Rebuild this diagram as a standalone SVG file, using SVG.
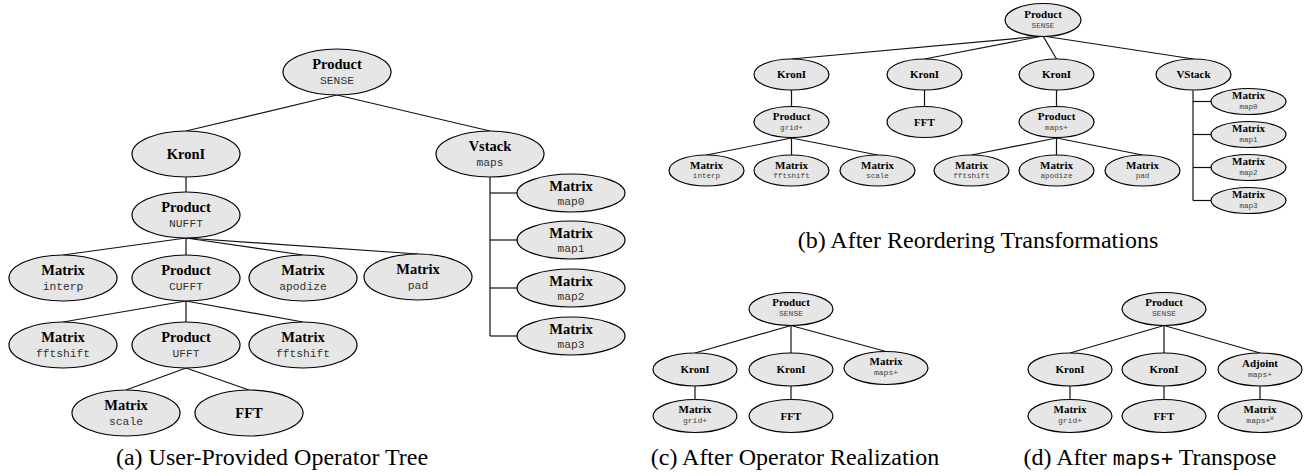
<svg xmlns="http://www.w3.org/2000/svg" width="1305" height="476" viewBox="0 0 1305 476">
<style>
  .bg { fill: #ffffff; }
  .n ellipse { fill: #e6e6e6; stroke: #000; stroke-width: 1.2; }
  .n text { text-anchor: middle; }
  .t1 { font-family: "Liberation Serif", serif; font-weight: bold; font-size: 14.5px; fill: #000; }
  .s1 { font-family: "Liberation Mono", monospace; font-size: 11.3px; fill: #333; }
  .t2 { font-family: "Liberation Serif", serif; font-weight: bold; font-size: 11px; fill: #000; }
  .s2 { font-family: "Liberation Mono", monospace; font-size: 7.6px; fill: #444; }
  .s3 { font-family: "Liberation Mono", monospace; font-size: 8px; fill: #444; }
  .edges line { stroke: #111; stroke-width: 1.2; fill: none; }
  .cap { font-family: "Liberation Serif", serif; font-size: 24px; fill: #000; text-anchor: middle; }
  .capmono { font-family: "DejaVu Sans Mono", monospace; font-size: 20px; }
</style>
<rect class="bg" x="0" y="0" width="1305" height="476"/>

<!-- connectors -->
<g id="edges" class="edges">
  <!-- (a) -->
  <line x1="337" y1="95" x2="186" y2="131"/>
  <line x1="337" y1="95" x2="490" y2="131"/>
  <line x1="186" y1="177" x2="186" y2="192"/>
  <line x1="186" y1="238" x2="63" y2="255"/>
  <line x1="186" y1="238" x2="186" y2="255"/>
  <line x1="186" y1="238" x2="303" y2="255"/>
  <line x1="186" y1="238" x2="418" y2="254"/>
  <line x1="186" y1="301" x2="63" y2="322"/>
  <line x1="186" y1="301" x2="186" y2="322"/>
  <line x1="186" y1="301" x2="303" y2="322"/>
  <line x1="186" y1="368" x2="126" y2="390"/>
  <line x1="186" y1="368" x2="249" y2="390"/>
  <line x1="490" y1="177" x2="490" y2="336"/>
  <line x1="490" y1="193" x2="517" y2="193"/>
  <line x1="490" y1="240" x2="517" y2="240"/>
  <line x1="490" y1="288" x2="517" y2="288"/>
  <line x1="490" y1="336" x2="517" y2="336"/>
  <!-- (b) -->
  <line x1="1043" y1="36" x2="791.5" y2="59"/>
  <line x1="1043" y1="36" x2="924.5" y2="59"/>
  <line x1="1043" y1="36" x2="1056.5" y2="59"/>
  <line x1="1043" y1="36" x2="1193.5" y2="59"/>
  <line x1="791.5" y1="90" x2="791.5" y2="106"/>
  <line x1="924.5" y1="90" x2="924.5" y2="106"/>
  <line x1="1056.5" y1="90" x2="1056.5" y2="106"/>
  <line x1="791.5" y1="138" x2="706.5" y2="155"/>
  <line x1="791.5" y1="138" x2="791.5" y2="155"/>
  <line x1="791.5" y1="138" x2="877.5" y2="155"/>
  <line x1="1056.5" y1="138" x2="971.5" y2="155"/>
  <line x1="1056.5" y1="138" x2="1056.5" y2="155"/>
  <line x1="1056.5" y1="138" x2="1142.5" y2="155"/>
  <line x1="1193" y1="90.5" x2="1193" y2="200.5"/>
  <line x1="1193" y1="101.5" x2="1211" y2="101.5"/>
  <line x1="1193" y1="134.5" x2="1211" y2="134.5"/>
  <line x1="1193" y1="167.5" x2="1211" y2="167.5"/>
  <line x1="1193" y1="200.5" x2="1211" y2="200.5"/>
  <!-- (c) -->
  <line x1="791" y1="325.5" x2="695" y2="353"/>
  <line x1="791" y1="325.5" x2="791" y2="353"/>
  <line x1="791" y1="325.5" x2="886" y2="351.5"/>
  <line x1="695" y1="386" x2="695" y2="399.5"/>
  <line x1="791" y1="386" x2="791" y2="399.5"/>
  <!-- (d) -->
  <line x1="1164" y1="325.5" x2="1070" y2="353"/>
  <line x1="1164" y1="325.5" x2="1164" y2="353"/>
  <line x1="1164" y1="325.5" x2="1260" y2="353"/>
  <line x1="1070" y1="386" x2="1070" y2="399.5"/>
  <line x1="1164" y1="386" x2="1164" y2="399.5"/>
  <line x1="1260" y1="386" x2="1260" y2="399.5"/>
</g>

<!-- (a) user-provided operator tree -->
<g id="a_sense" class="n"><ellipse cx="337" cy="72" rx="54" ry="23"/><text class="t1" x="337" y="69">Product</text><text class="s1" x="337" y="84">SENSE</text></g>
<g id="a_kron" class="n"><ellipse cx="186" cy="154" rx="54" ry="23"/><text class="t1" x="186" y="159">KronI</text></g>
<g id="a_vstack" class="n"><ellipse cx="490" cy="154" rx="54" ry="23"/><text class="t1" x="490" y="151">Vstack</text><text class="s1" x="490" y="166">maps</text></g>
<g id="a_nufft" class="n"><ellipse cx="186" cy="215" rx="54" ry="23"/><text class="t1" x="186" y="212">Product</text><text class="s1" x="186" y="227">NUFFT</text></g>
<g id="a_map0" class="n"><ellipse cx="571" cy="193" rx="54" ry="19"/><text class="t1" x="571" y="191">Matrix</text><text class="s1" x="571" y="205">map0</text></g>
<g id="a_map1" class="n"><ellipse cx="571" cy="240" rx="54" ry="19"/><text class="t1" x="571" y="238">Matrix</text><text class="s1" x="571" y="252">map1</text></g>
<g id="a_map2" class="n"><ellipse cx="571" cy="288" rx="54" ry="19"/><text class="t1" x="571" y="286">Matrix</text><text class="s1" x="571" y="300">map2</text></g>
<g id="a_map3" class="n"><ellipse cx="571" cy="336" rx="54" ry="19"/><text class="t1" x="571" y="334">Matrix</text><text class="s1" x="571" y="348">map3</text></g>
<g id="a_interp" class="n"><ellipse cx="63" cy="278" rx="54" ry="23"/><text class="t1" x="63" y="275">Matrix</text><text class="s1" x="63" y="290">interp</text></g>
<g id="a_cufft" class="n"><ellipse cx="186" cy="278" rx="54" ry="23"/><text class="t1" x="186" y="275">Product</text><text class="s1" x="186" y="290">CUFFT</text></g>
<g id="a_apodize" class="n"><ellipse cx="303" cy="278" rx="54" ry="23"/><text class="t1" x="303" y="275">Matrix</text><text class="s1" x="303" y="290">apodize</text></g>
<g id="a_pad" class="n"><ellipse cx="418" cy="277" rx="54" ry="23"/><text class="t1" x="418" y="274">Matrix</text><text class="s1" x="418" y="289">pad</text></g>
<g id="a_fftshift1" class="n"><ellipse cx="63" cy="345" rx="54" ry="23"/><text class="t1" x="63" y="342">Matrix</text><text class="s1" x="63" y="357">fftshift</text></g>
<g id="a_ufft" class="n"><ellipse cx="186" cy="345" rx="54" ry="23"/><text class="t1" x="186" y="342">Product</text><text class="s1" x="186" y="357">UFFT</text></g>
<g id="a_fftshift2" class="n"><ellipse cx="303" cy="345" rx="54" ry="23"/><text class="t1" x="303" y="342">Matrix</text><text class="s1" x="303" y="357">fftshift</text></g>
<g id="a_scale" class="n"><ellipse cx="126" cy="413" rx="54" ry="23"/><text class="t1" x="126" y="410">Matrix</text><text class="s1" x="126" y="425">scale</text></g>
<g id="a_fft" class="n"><ellipse cx="249" cy="413" rx="54" ry="23"/><text class="t1" x="249" y="418">FFT</text></g>

<!-- (b) after reordering -->
<g id="b_sense" class="n"><ellipse cx="1043" cy="20" rx="38" ry="16.5"/><text class="t2" x="1043" y="18">Product</text><text class="s2" x="1043" y="28">SENSE</text></g>
<g id="b_kron1" class="n"><ellipse cx="791.5" cy="74.5" rx="37.5" ry="15.5"/><text class="t2" x="791.5" y="78">KronI</text></g>
<g id="b_kron2" class="n"><ellipse cx="924.5" cy="74.5" rx="37.5" ry="15.5"/><text class="t2" x="924.5" y="78">KronI</text></g>
<g id="b_kron3" class="n"><ellipse cx="1056.5" cy="74.5" rx="37.5" ry="15.5"/><text class="t2" x="1056.5" y="78">KronI</text></g>
<g id="b_vstack" class="n"><ellipse cx="1193.5" cy="74.5" rx="37.5" ry="15.5"/><text class="t2" x="1193.5" y="78">VStack</text></g>
<g id="b_grid" class="n"><ellipse cx="791.5" cy="122" rx="37.5" ry="15.5"/><text class="t2" x="791.5" y="120">Product</text><text class="s2" x="791.5" y="129.5">grid+</text></g>
<g id="b_fft" class="n"><ellipse cx="924.5" cy="122" rx="37.5" ry="15.5"/><text class="t2" x="924.5" y="125.5">FFT</text></g>
<g id="b_maps" class="n"><ellipse cx="1056.5" cy="122" rx="37.5" ry="15.5"/><text class="t2" x="1056.5" y="120">Product</text><text class="s2" x="1056.5" y="129.5">maps+</text></g>
<g id="b_interp" class="n"><ellipse cx="706.5" cy="170.5" rx="37.5" ry="15.5"/><text class="t2" x="706.5" y="168.5">Matrix</text><text class="s2" x="706.5" y="178">interp</text></g>
<g id="b_fftshift1" class="n"><ellipse cx="791.5" cy="170.5" rx="37.5" ry="15.5"/><text class="t2" x="791.5" y="168.5">Matrix</text><text class="s2" x="791.5" y="178">fftshift</text></g>
<g id="b_scale" class="n"><ellipse cx="877.5" cy="170.5" rx="37.5" ry="15.5"/><text class="t2" x="877.5" y="168.5">Matrix</text><text class="s2" x="877.5" y="178">scale</text></g>
<g id="b_fftshift2" class="n"><ellipse cx="971.5" cy="170.5" rx="37.5" ry="15.5"/><text class="t2" x="971.5" y="168.5">Matrix</text><text class="s2" x="971.5" y="178">fftshift</text></g>
<g id="b_apodize" class="n"><ellipse cx="1056.5" cy="170.5" rx="37.5" ry="15.5"/><text class="t2" x="1056.5" y="168.5">Matrix</text><text class="s2" x="1056.5" y="178">apodize</text></g>
<g id="b_pad" class="n"><ellipse cx="1142.5" cy="170.5" rx="37.5" ry="15.5"/><text class="t2" x="1142.5" y="168.5">Matrix</text><text class="s2" x="1142.5" y="178">pad</text></g>
<g id="b_map0" class="n"><ellipse cx="1248.5" cy="101.5" rx="37.5" ry="13"/><text class="t2" x="1248.5" y="99">Matrix</text><text class="s2" x="1248.5" y="109">map0</text></g>
<g id="b_map1" class="n"><ellipse cx="1248.5" cy="134.5" rx="37.5" ry="13"/><text class="t2" x="1248.5" y="132">Matrix</text><text class="s2" x="1248.5" y="142">map1</text></g>
<g id="b_map2" class="n"><ellipse cx="1248.5" cy="167.5" rx="37.5" ry="13"/><text class="t2" x="1248.5" y="165">Matrix</text><text class="s2" x="1248.5" y="175">map2</text></g>
<g id="b_map3" class="n"><ellipse cx="1248.5" cy="200.5" rx="37.5" ry="13"/><text class="t2" x="1248.5" y="198">Matrix</text><text class="s2" x="1248.5" y="208">map3</text></g>

<!-- (c) after operator realization -->
<g id="c_sense" class="n"><ellipse cx="791" cy="309" rx="42" ry="16.5"/><text class="t2" x="791" y="306">Product</text><text class="s3" x="791" y="316">SENSE</text></g>
<g id="c_kron1" class="n"><ellipse cx="695" cy="369.5" rx="42" ry="16.5"/><text class="t2" x="695" y="373">KronI</text></g>
<g id="c_kron2" class="n"><ellipse cx="791" cy="369.5" rx="42" ry="16.5"/><text class="t2" x="791" y="373">KronI</text></g>
<g id="c_maps" class="n"><ellipse cx="886" cy="368" rx="42" ry="16.5"/><text class="t2" x="886" y="365">Matrix</text><text class="s3" x="886" y="375">maps+</text></g>
<g id="c_grid" class="n"><ellipse cx="695" cy="416" rx="42" ry="16.5"/><text class="t2" x="695" y="413">Matrix</text><text class="s3" x="695" y="423">grid+</text></g>
<g id="c_fft" class="n"><ellipse cx="791" cy="416" rx="42" ry="16.5"/><text class="t2" x="791" y="419.5">FFT</text></g>

<!-- (d) after transposing maps+ -->
<g id="d_sense" class="n"><ellipse cx="1164" cy="309" rx="42" ry="16.5"/><text class="t2" x="1164" y="306">Product</text><text class="s3" x="1164" y="316">SENSE</text></g>
<g id="d_kron1" class="n"><ellipse cx="1070" cy="369.5" rx="42" ry="16.5"/><text class="t2" x="1070" y="373">KronI</text></g>
<g id="d_kron2" class="n"><ellipse cx="1164" cy="369.5" rx="42" ry="16.5"/><text class="t2" x="1164" y="373">KronI</text></g>
<g id="d_adjoint" class="n"><ellipse cx="1260" cy="369.5" rx="42" ry="16.5"/><text class="t2" x="1260" y="366.5">Adjoint</text><text class="s3" x="1260" y="376.5">maps+</text></g>
<g id="d_grid" class="n"><ellipse cx="1070" cy="416" rx="42" ry="16.5"/><text class="t2" x="1070" y="413">Matrix</text><text class="s3" x="1070" y="423">grid+</text></g>
<g id="d_fft" class="n"><ellipse cx="1164" cy="416" rx="42" ry="16.5"/><text class="t2" x="1164" y="419.5">FFT</text></g>
<g id="d_mapsH" class="n"><ellipse cx="1260" cy="416" rx="42" ry="16.5"/><text class="t2" x="1260" y="413">Matrix</text><text class="s3" x="1260" y="423">maps+<tspan font-size="5.5px" dy="-3">H</tspan></text></g>

<!-- captions -->
<g id="captions">
  <text class="cap" x="272" y="465">(a) User-Provided Operator Tree</text>
  <text class="cap" x="978" y="248">(b) After Reordering Transformations</text>
  <text class="cap" x="795" y="465">(c) After Operator Realization</text>
  <text class="cap" x="1150" y="465">(d) After <tspan class="capmono">maps+</tspan> Transpose</text>
</g>
</svg>
